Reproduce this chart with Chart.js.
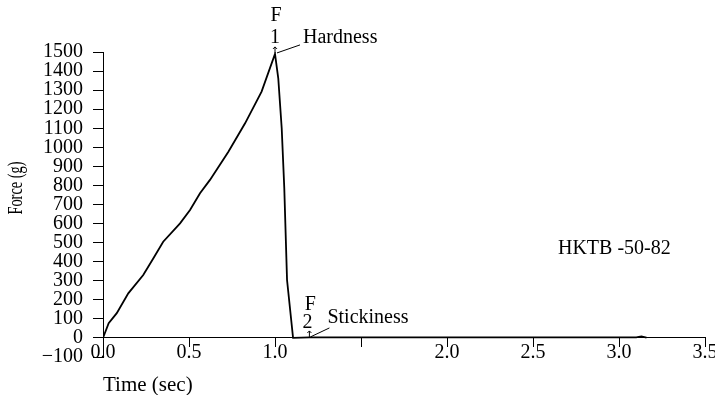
<!DOCTYPE html>
<html>
<head>
<meta charset="utf-8">
<script src="https://cdn.jsdelivr.net/npm/chart.js@4/dist/chart.umd.min.js"></script>
<style>
  html, body { margin: 0; padding: 0; background: #fff; }
  #wrap { width: 715px; height: 395px; }
</style>
</head>
<body>
<div id="wrap"><canvas id="forceChart" width="715" height="395"></canvas></div>
<script>
// Datos (tiempo en s, fuerza en g)
const timeSec = [0, 0.033, 0.08, 0.147, 0.234, 0.293, 0.35, 0.448, 0.506, 0.564, 0.622, 0.729, 0.826, 0.922, 1.0,
  1.019, 1.039, 1.054, 1.07, 1.105, 1.2, 1.5, 2.0, 2.5, 3.0, 3.1, 3.13, 3.16];
const forceG = [0, 77, 130, 234, 330, 418, 505, 601, 671, 759, 829, 977, 1126, 1292, 1490,
  1362, 1100, 785, 304, 0, 3, 3, 3, 3, 3, 3, 8, 2];

// Etiquetas de los ejes
const xTickLabels = ['0.0', '0.5', '1.0', '', '2.0', '2.5', '3.0', '3.5'];
const yTickLabels = ['\u2212100', '0', '100', '200', '300', '400', '500', '600', '700', '800',
  '900', '1000', '1100', '1200', '1300', '1400', '1500'];

// Puntos marcados (F1 dureza, F2 adhesividad)
const markerLetters = ['F', 'F'];
const markerIndex = ['1', '2'];
const markerNames = ['Hardness', 'Stickiness'];
const markerTimes = [1.0, 1.2];
const markerForces = [1490, 0];

// Texto de la muestra
const sampleName = 'HKTB -50-82';
const sampleAt = [2.645, 470];

const SERIF = "'Liberation Serif', 'Times New Roman', serif";

// Desplazamientos en píxeles de cada rótulo respecto a su punto
const calloutStyle = [
  { letter: [1, -38], index: [0, -16], lead: [[2, -1], [25, -9]], name: [28, -16] },
  { letter: [1, -33], index: [-2, -15], lead: [[1, -1], [20, -10]], name: [18, -20] }
];

const annotations = {
  id: 'annotations',
  afterDatasetsDraw(chart) {
    const { ctx, scales: { x, y } } = chart;
    ctx.save();
    ctx.fillStyle = '#000';
    ctx.strokeStyle = '#000';
    ctx.lineWidth = 1;
    ctx.font = '20px ' + SERIF;
    ctx.textBaseline = 'middle';
    markerNames.forEach((name, i) => {
      const px = x.getPixelForValue(markerTimes[i]);
      const py = y.getPixelForValue(markerForces[i]);
      const s = calloutStyle[i];
      ctx.textAlign = 'center';
      ctx.fillText(markerLetters[i], px + s.letter[0], py + s.letter[1]);
      ctx.fillText(markerIndex[i], px + s.index[0], py + s.index[1]);
      // flechita
      ctx.beginPath();
      ctx.moveTo(px, py - 1);
      ctx.lineTo(px, py - 7);
      ctx.moveTo(px - 2, py - 5);
      ctx.lineTo(px, py - 7);
      ctx.lineTo(px + 2, py - 5);
      ctx.stroke();
      // línea guía
      ctx.beginPath();
      ctx.moveTo(px + s.lead[0][0], py + s.lead[0][1]);
      ctx.lineTo(px + s.lead[1][0], py + s.lead[1][1]);
      ctx.stroke();
      ctx.textAlign = 'left';
      ctx.fillText(name, px + s.name[0], py + s.name[1]);
    });
    ctx.textAlign = 'left';
    ctx.fillText(sampleName, x.getPixelForValue(sampleAt[0]), y.getPixelForValue(sampleAt[1]));

    // título del eje Y (texto estrecho, como en el original)
    ctx.translate(17, 188);
    ctx.rotate(-Math.PI / 2);
    ctx.scale(0.72, 1);
    ctx.font = '20px ' + SERIF;
    ctx.textAlign = 'center';
    ctx.fillText('Force (g)', 0, 0);
    ctx.restore();
  }
};

const ctx = document.getElementById('forceChart').getContext('2d');

new Chart(ctx, {
  type: 'line',
  data: {
    datasets: [{
      data: timeSec.map((t, i) => ({ x: t, y: forceG[i] })),
      borderColor: '#000',
      borderWidth: 1.8,
      pointRadius: 0,
      tension: 0,
      fill: false
    }]
  },
  options: {
    responsive: false,
    animation: false,
    layout: { padding: { left: 0, top: 52, right: 10, bottom: 38 } },
    plugins: {
      legend: { display: false },
      tooltip: { enabled: false }
    },
    scales: {
      x: {
        type: 'linear',
        position: { y: 0 },
        min: 0,
        max: 3.5,
        afterFit: (s) => { s.paddingRight = 0; s.paddingLeft = 0; },
        border: { display: true, color: '#000', width: 1 },
        grid: { drawOnChartArea: false, drawTicks: true, tickLength: 9, color: '#000' },
        ticks: {
          stepSize: 0.5,
          padding: -6,
          color: '#000',
          font: { family: SERIF, size: 20 },
          maxRotation: 0,
          autoSkip: false,
          callback: (v, i) => xTickLabels[i]
        },
        title: {
          display: true,
          text: 'Time (sec)',
          align: 'start',
          color: '#000',
          font: { family: SERIF, size: 21 },
          padding: { top: 14, bottom: 0 }
        }
      },
      y: {
        type: 'linear',
        min: -100,
        max: 1500,
        afterFit: (s) => { s.width = 103; },
        border: { display: true, color: '#000', width: 1 },
        grid: { drawOnChartArea: false, drawTicks: true, tickLength: 10, color: '#000' },
        ticks: {
          stepSize: 100,
          padding: 10,
          color: '#000',
          font: { family: SERIF, size: 20 },
          autoSkip: false,
          callback: (v, i) => yTickLabels[i]
        }
      }
    }
  },
  plugins: [annotations]
});
</script>
</body>
</html>
